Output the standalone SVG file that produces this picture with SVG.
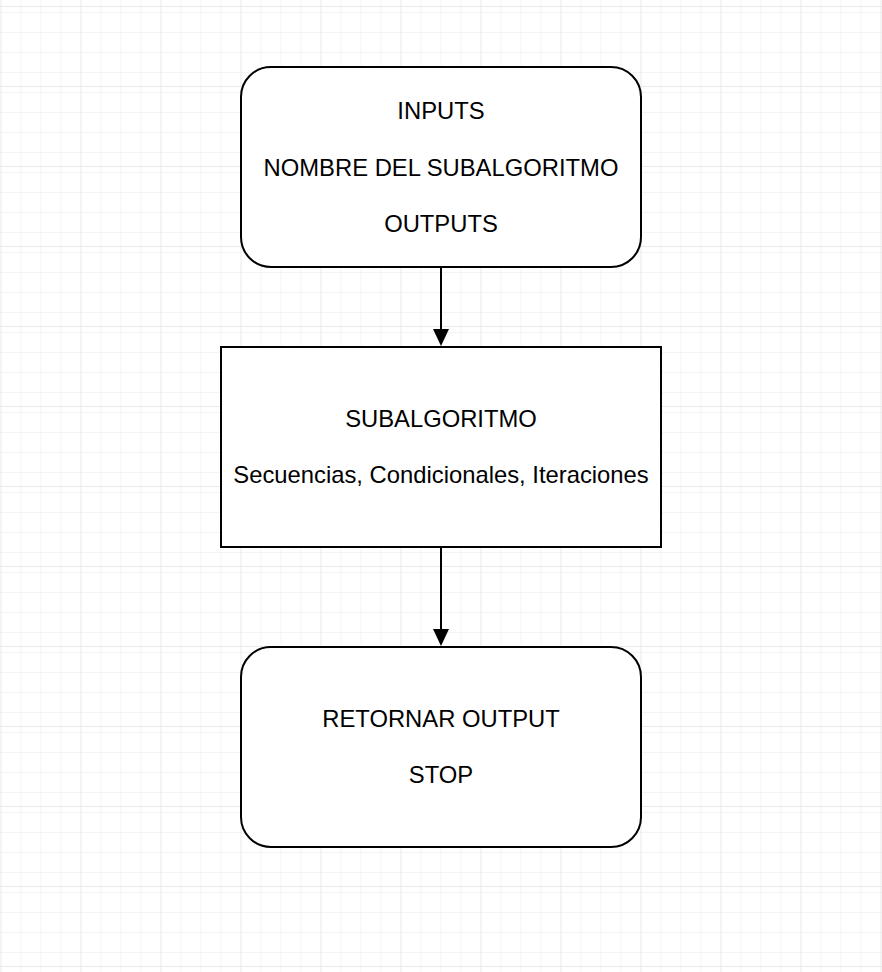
<svg xmlns="http://www.w3.org/2000/svg" width="882" height="972" viewBox="0 0 882 972">
  <style>
    .node { fill: #ffffff; stroke: #000000; stroke-width: 2; }
    .label { font-family: "Liberation Sans", Arial, Helvetica, sans-serif; font-size: 23.8px; fill: #000000; text-anchor: middle; }
    .edge { stroke: #000000; stroke-width: 2; fill: none; }
  </style>
  <defs>
    <pattern id="minor" x="0" y="6" width="20" height="20" patternUnits="userSpaceOnUse">
      <path d="M 20 0 L 0 0 0 20" fill="none" stroke="#f1f1f1" stroke-width="1.5"/>
    </pattern>
    <pattern id="major" x="0.5" y="6" width="80" height="80" patternUnits="userSpaceOnUse">
      <rect width="80" height="80" fill="url(#minor)"/>
      <path d="M 80 0 L 0 0 0 80" fill="none" stroke="#e4e4e4" stroke-width="1.5"/>
    </pattern>
  </defs>
  <rect width="882" height="972" fill="#ffffff"/>
  <rect width="882" height="972" fill="url(#major)"/>

  <g id="connectors">
    <line class="edge" x1="441" y1="267" x2="441" y2="329"/>
    <path d="M 433 329 L 449 329 L 441 346 Z" fill="#000000"/>
    <line class="edge" x1="441" y1="547" x2="441" y2="629"/>
    <path d="M 433 629 L 449 629 L 441 646 Z" fill="#000000"/>
  </g>

  <g id="node-inputs">
    <rect class="node" x="241" y="67" width="400" height="200" rx="30" ry="30"/>
    <text class="label" x="441" y="119">INPUTS</text>
    <text class="label" x="441" y="176">NOMBRE DEL SUBALGORITMO</text>
    <text class="label" x="441" y="232">OUTPUTS</text>
  </g>

  <g id="node-subalgoritmo">
    <rect class="node" x="221" y="347" width="440" height="200"/>
    <text class="label" x="441" y="427">SUBALGORITMO</text>
    <text class="label" x="441" y="483">Secuencias, Condicionales, Iteraciones</text>
  </g>

  <g id="node-retornar">
    <rect class="node" x="241" y="647" width="400" height="200" rx="30" ry="30"/>
    <text class="label" x="441" y="727">RETORNAR OUTPUT</text>
    <text class="label" x="441" y="783">STOP</text>
  </g>
</svg>
